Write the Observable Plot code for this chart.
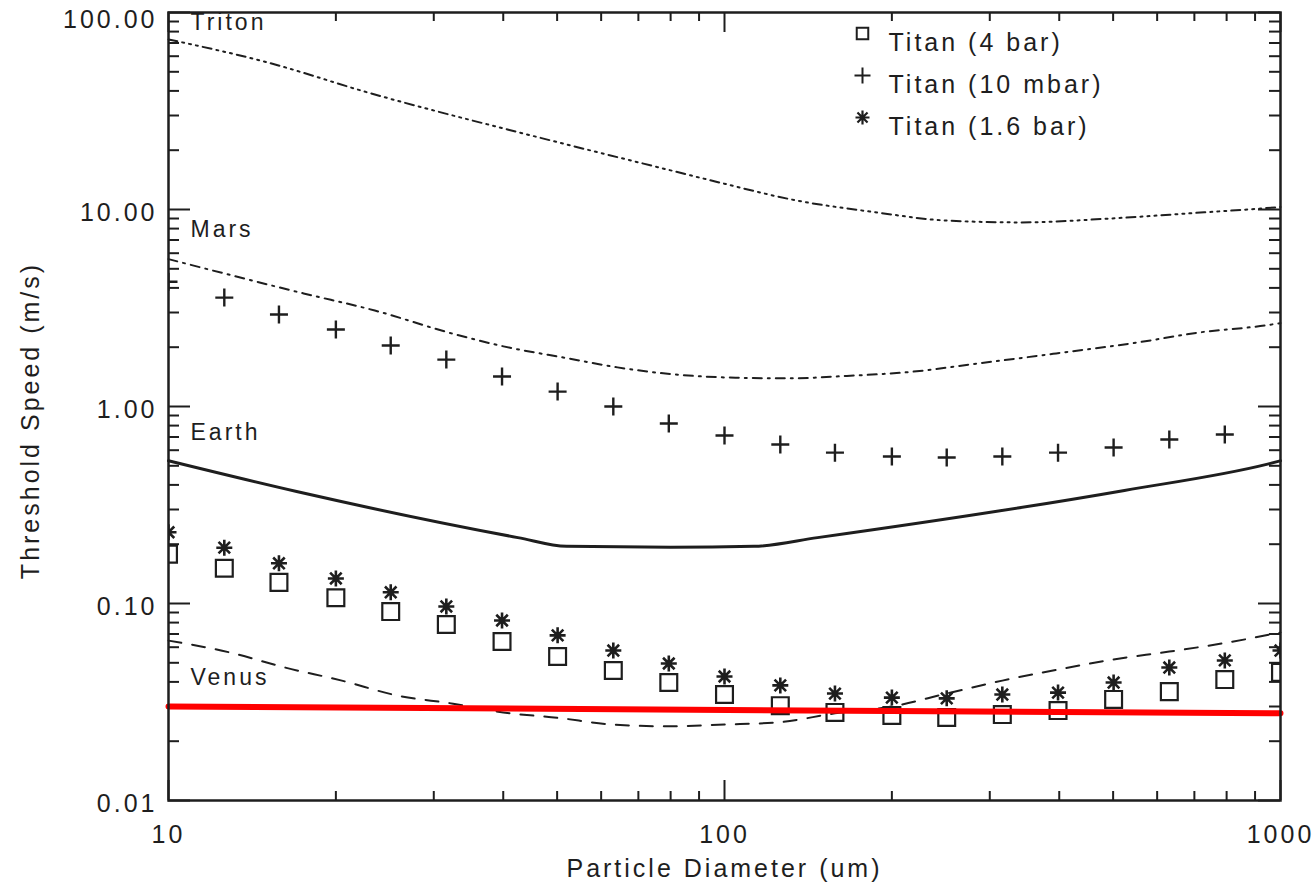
<!DOCTYPE html>
<html>
<head>
<meta charset="utf-8">
<script src="https://cdn.jsdelivr.net/npm/d3@7"></script>
<script src="https://cdn.jsdelivr.net/npm/@observablehq/plot@0.6"></script>
<style>
  html, body { margin: 0; padding: 0; background: #ffffff; }
  #chart svg { display: block; }
</style>
</head>
<body>
<div id="chart"></div>
<script>
// ---------------- data ----------------
const diameters = [10, 12.6, 15.8, 20, 25.1, 31.6, 39.8, 50.1, 63.1, 79.4, 100, 126, 158, 200, 251, 316, 398, 501, 631, 794, 1000];

const titan4bar  = [0.178, 0.151, 0.128, 0.107, 0.091, 0.0782, 0.0641, 0.0538, 0.0457, 0.0397, 0.0345, 0.0303, 0.0280, 0.0270, 0.0264, 0.0273, 0.0286, 0.0326, 0.0357, 0.0411, 0.0447];
const titan10mbar = [4.3, 3.57, 2.93, 2.46, 2.04, 1.73, 1.42, 1.19, 1.0, 0.82, 0.713, 0.641, 0.583, 0.557, 0.551, 0.557, 0.583, 0.619, 0.680, 0.721, null];
const titan16bar = [0.23, 0.192, 0.160, 0.134, 0.114, 0.0966, 0.0820, 0.0689, 0.0577, 0.0496, 0.0426, 0.0384, 0.0349, 0.0333, 0.0330, 0.0345, 0.0353, 0.0397, 0.0473, 0.0514, 0.0577];

const tritonD = [10, 15.1, 22.8, 46.4, 80, 97, 135, 186, 249, 340, 494, 700, 915, 1000];
const tritonV = [73, 55.7, 39.3, 23.2, 15.8, 13.8, 11.1, 9.7, 8.8, 8.6, 9.0, 9.6, 10.1, 10.3];

const marsD = [10, 17.5, 23.5, 32.3, 39.4, 52.6, 64.2, 78.3, 104.7, 130.4, 166, 217, 284, 395, 551, 718, 940, 1000];
const marsV = [5.6, 3.75, 3.07, 2.35, 2.04, 1.75, 1.58, 1.47, 1.40, 1.39, 1.43, 1.50, 1.65, 1.86, 2.11, 2.38, 2.58, 2.65];

const earthD = [10, 17, 42.5, 52, 80, 113, 147, 524, 948, 1000];
const earthV = [0.53, 0.37, 0.216, 0.195, 0.193, 0.195, 0.216, 0.375, 0.51, 0.53];

const venusD = [10, 12.9, 16.2, 20.5, 25.8, 32.5, 40, 50, 63, 79, 100, 126, 158, 200, 251, 316, 398, 501, 631, 794, 1000];
const venusV = [0.0648, 0.0564, 0.0473, 0.0406, 0.0341, 0.031, 0.028, 0.0263, 0.0243, 0.0238, 0.0243, 0.025, 0.0277, 0.030, 0.0349, 0.0406, 0.0462, 0.052, 0.057, 0.063, 0.0713];

const redD = [10, 1000];
const redV = [0.0300, 0.0277];

const planetNames  = ["Triton", "Mars", "Earth", "Venus"];
const planetLabelY = [89, 7.9, 0.74, 0.042];

const legendNames = ["Titan (4 bar)", "Titan (10 mbar)", "Titan (1.6 bar)"];

const xTickValues = [10, 100, 1000];
const xTickLabels = ["10", "100", "1000"];
const yTickValues = [0.01, 0.1, 1, 10, 100];
const yTickLabels = ["0.01", "0.10", "1.00", "10.00", "100.00"];

const xTitle = "Particle Diameter (um)";
const yTitle = "Threshold Speed (m/s)";

// ---------------- layout ----------------
const W = 1314, H = 884, mL = 168, mR = 34, mT = 12, mB = 84;
const fw = W - mL - mR, fh = H - mT - mB;
const ink = "#1e1e1e";

const rows = (xs, ys) => xs.map((x, i) => ({x, y: ys[i]})).filter(d => d.y != null);
const yLabel = d => yTickLabels[yTickValues.indexOf(d)];

// minor ticks (axis decoration only)
const xMinor = [];
for (const p of [10, 100]) for (let k = 2; k <= 9; k++) xMinor.push(k * p);
const yMinor = [];
for (const p of [0.01, 0.1, 1, 10]) for (let k = 2; k <= 9; k++) yMinor.push(k * p);

// custom stroked symbols
const plusSym = {draw(ctx, size) {
  const r = Math.sqrt(size / Math.PI);
  ctx.moveTo(-r, 0); ctx.lineTo(r, 0);
  ctx.moveTo(0, -r); ctx.lineTo(0, r);
}};
const starSym = {draw(ctx, size) {
  const r = Math.sqrt(size / Math.PI), q = r * 0.72;
  ctx.moveTo(-r, 0); ctx.lineTo(r, 0);
  ctx.moveTo(0, -r); ctx.lineTo(0, r);
  ctx.moveTo(-q, -q); ctx.lineTo(q, q);
  ctx.moveTo(-q, q); ctx.lineTo(q, -q);
}};
const legendSymbols = ["square", plusSym, starSym];
const legendR = [6.5, 8, 7];
const legendSW = [2, 2, 2.2];

const legendMarks = [];
legendNames.forEach((name, i) => {
  legendMarks.push(Plot.dot([name], {frameAnchor: "top-left", dx: 694, dy: 21 + i * 42,
    symbol: legendSymbols[i], r: legendR[i], fill: "none", stroke: ink, strokeWidth: legendSW[i]}));
  legendMarks.push(Plot.text([name], {frameAnchor: "top-left", dx: 720, dy: 21 + i * 42,
    text: d => d, textAnchor: "start", fill: ink}));
});

const chart = Plot.plot({
  width: W, height: H,
  marginLeft: mL, marginRight: mR, marginTop: mT, marginBottom: mB,
  style: {fontFamily: "'Liberation Sans', Arial, sans-serif", fontSize: "25px", letterSpacing: "3px", color: ink, background: "#ffffff"},
  x: {type: "log", domain: [10, 1000]},
  y: {type: "log", domain: [0.01, 100]},
  marks: [
    // inward ticks, IDL style
    Plot.tickY(yTickValues, {y: d => d, insetRight: fw - 22, stroke: ink, strokeWidth: 2}),
    Plot.tickY(yMinor, {y: d => d, insetRight: fw - 11, stroke: ink, strokeWidth: 2}),
    Plot.tickY(yTickValues, {y: d => d, insetLeft: fw - 22, stroke: ink, strokeWidth: 2}),
    Plot.tickY(yMinor, {y: d => d, insetLeft: fw - 11, stroke: ink, strokeWidth: 2}),
    Plot.tickX(xTickValues, {x: d => d, insetTop: fh - 20, stroke: ink, strokeWidth: 2}),
    Plot.tickX(xMinor, {x: d => d, insetTop: fh - 9, stroke: ink, strokeWidth: 2}),
    Plot.tickX(xTickValues, {x: d => d, insetBottom: fh - 20, stroke: ink, strokeWidth: 2}),
    Plot.tickX(xMinor, {x: d => d, insetBottom: fh - 9, stroke: ink, strokeWidth: 2}),

    // planet threshold curves
    Plot.line(rows(tritonD, tritonV), {x: "x", y: "y", curve: "monotone-x", stroke: ink, strokeWidth: 2, strokeDasharray: "9,5,2,5,2,5,2,5"}),
    Plot.line(rows(marsD, marsV), {x: "x", y: "y", curve: "monotone-x", stroke: ink, strokeWidth: 2, strokeDasharray: "9,6,2,6"}),
    Plot.line(rows(earthD, earthV), {x: "x", y: "y", curve: "monotone-x", stroke: ink, strokeWidth: 3}),
    Plot.line(rows(venusD, venusV), {x: "x", y: "y", curve: "monotone-x", stroke: ink, strokeWidth: 2, strokeDasharray: "13,11"}),

    // Titan points
    Plot.dot(rows(diameters, titan4bar), {x: "x", y: "y", symbol: "square", r: 9.5, fill: "none", stroke: ink, strokeWidth: 2.2, clip: true}),
    Plot.dot(rows(diameters, titan16bar), {x: "x", y: "y", symbol: starSym, r: 8, fill: "none", stroke: ink, strokeWidth: 2.6, clip: true}),
    Plot.dot(rows(diameters, titan10mbar), {x: "x", y: "y", symbol: plusSym, r: 9, fill: "none", stroke: ink, strokeWidth: 2.4, clip: true}),

    // red reference line
    Plot.line(rows(redD, redV), {x: "x", y: "y", stroke: "#ff0000", strokeWidth: 6}),

    // planet labels
    Plot.text(planetNames, {x: () => 10, y: (d, i) => planetLabelY[i], text: d => d, textAnchor: "start", dx: 22, fill: ink, fontSize: 23}),

    ...legendMarks,

    Plot.frame({stroke: ink, strokeWidth: 2.5}),

    // x axis labels and title
    Plot.axisX({ticks: xTickValues, tickFormat: d => xTickLabels[xTickValues.indexOf(d)], tickSize: 0, tickPadding: 20, dy: 5,
      label: null}),
    Plot.text([xTitle], {frameAnchor: "bottom", dy: 76, text: d => d, textAnchor: "middle", fill: ink}),
    // y axis labels (the top one nudged down so it stays inside the picture)
    Plot.axisY({ticks: yTickValues.slice(0, 4), tickFormat: yLabel, tickSize: 0, tickPadding: 11, dy: 3, label: null}),
    Plot.axisY({ticks: yTickValues.slice(4), tickFormat: yLabel, tickSize: 0, tickPadding: 11, dy: 7, label: null}),
    Plot.text([yTitle], {frameAnchor: "left", rotate: -90, dx: -138, dy: 14, text: d => d, textAnchor: "middle", fill: ink})
  ]
});
document.getElementById("chart").appendChild(chart);
</script>
</body>
</html>
